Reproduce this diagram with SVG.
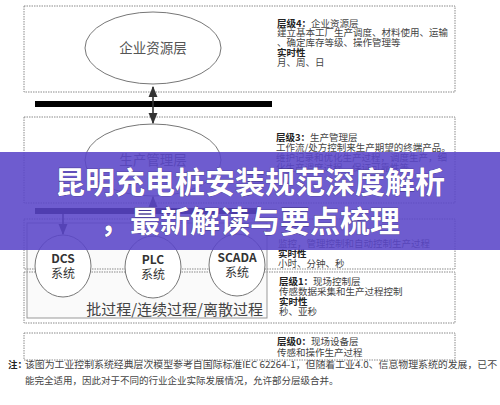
<svg xmlns="http://www.w3.org/2000/svg" width="500" height="405" viewBox="0 0 500 405">
<defs>
<style>
.box{fill:none;stroke:#8a8a8a;stroke-width:1;stroke-dasharray:1.5 1}
.ell{fill:#fff;stroke:#777;stroke-width:1}
.et{font-family:"Noto Sans CJK SC",sans-serif;font-size:13.5px;fill:#555;text-anchor:middle}
.ct{font-family:"Noto Sans CJK SC",sans-serif;font-size:12px;fill:#333;text-anchor:middle}
.rt{font-family:"Noto Sans CJK SC",sans-serif;font-size:9.5px;fill:#444}
.hb{font-weight:bold;fill:#222}
.bar{fill:#000}
.con{stroke:#333;stroke-width:1.6;fill:none}
.note{font-family:"Noto Sans CJK SC",sans-serif;font-size:9.5px;fill:#444}
.bt{font-family:"Noto Sans CJK SC",sans-serif;font-size:30px;font-weight:bold;fill:#fff;text-anchor:middle;stroke:#3a2c80;stroke-width:0.6;paint-order:stroke}
</style>
<marker id="ah" viewBox="0 0 10 10" refX="9" refY="5" markerWidth="7" markerHeight="7" orient="auto-start-reverse"><path d="M0,1 L10,5 L0,9 Z" fill="#333"/></marker>
</defs>
<rect width="500" height="405" fill="#fff"/>

<g id="layer4">
<rect class="box" x="24" y="6" width="431" height="86"/>
<ellipse class="ell" cx="153" cy="48" rx="68" ry="36"/>
<text class="et" x="153" y="53">企业资源层</text>
<text class="rt" x="277" y="26.5"><tspan class="hb">层级4：</tspan>企业资源层</text>
<text class="rt" x="277" y="35.5">建立基本工厂生产调度、材料使用、运输</text>
<text class="rt" x="277" y="45.5">、确定库存等级、操作管理等</text>
<text class="rt hb" x="277" y="55.5">实时性</text>
<text class="rt" x="277" y="65.5">月、周、日</text>
</g>

<g id="layer3">
<rect class="box" x="24" y="117" width="431" height="86"/>
<ellipse class="ell" cx="153" cy="160" rx="68" ry="36"/>
<text class="et" x="153" y="165">生产管理层</text>
<text class="rt" x="276" y="140.5"><tspan class="hb">层级3：</tspan>生产管理层</text>
<text class="rt" x="276" y="150.5">工作流/处方控制来生产期望的终端产品。</text>
<text class="rt" x="276" y="160.5">维护记录和优化生产过程，调度生产，细</text>
<text class="rt" x="276" y="170.5">化生产调度过程，保证可靠性等</text>
</g>

<g id="layer2">
<rect x="27" y="223" width="240" height="95" fill="#fafafa"/>
<rect class="box" x="24" y="219" width="431" height="50"/>
<text class="rt" x="278" y="246.5">监控，管理控制和自动控制生产过程</text>
<text class="rt hb" x="278" y="256.5">实时性</text>
<text class="rt" x="278" y="266.5">小时、分钟、秒</text>
</g>

<g id="layer1">
<rect class="box" x="24" y="272" width="431" height="51"/>
<text class="rt" x="279" y="284.5"><tspan class="hb">层级1：</tspan>现场控制层</text>
<text class="rt" x="279" y="294.5">传感数据采集和生产过程控制</text>
<text class="rt hb" x="279" y="304.5">实时性</text>
<text class="rt" x="279" y="314.5">秒、亚秒</text>
</g>

<g id="process">
<rect x="27" y="223" width="240" height="95" fill="none" stroke="#999" stroke-width="1"/>
<text x="263" y="315" font-family="Noto Sans CJK SC,sans-serif" font-size="15" fill="#444" text-anchor="end">批过程/连续过程/离散过程</text>
</g>

<g id="dcs">
<ellipse class="ell" cx="63" cy="266" rx="28" ry="31"/>
<text class="ct" x="63" y="263" font-weight="bold">DCS</text>
<text class="ct" x="63" y="278" fill="#555">系统</text>
</g>
<g id="plc">
<ellipse class="ell" cx="153" cy="267" rx="28" ry="31"/>
<text class="ct" x="153" y="264" font-weight="bold">PLC</text>
<text class="ct" x="153" y="279" fill="#555">系统</text>
</g>
<g id="scada">
<ellipse class="ell" cx="237" cy="265" rx="28" ry="31"/>
<text class="ct" x="237" y="262" font-weight="bold">SCADA</text>
<text class="ct" x="237" y="277" fill="#555">系统</text>
</g>

<g id="layer0">
<rect class="box" x="24" y="333" width="431" height="27"/>
<text class="rt" x="277" y="344.5"><tspan class="hb">层级0：</tspan>现场设备层</text>
<text class="rt" x="277" y="355.5">传感和操作生产过程</text>
</g>

<g id="connectors">
<rect class="bar" x="35" y="101" width="237" height="6"/>
<rect class="bar" x="35" y="208" width="222" height="6"/>
<line class="con" x1="153" y1="87" x2="153" y2="123" marker-start="url(#ah)" marker-end="url(#ah)"/>
<line class="con" x1="153" y1="208" x2="153" y2="197" marker-end="url(#ah)"/>
<line class="con" x1="63" y1="214" x2="63" y2="234" marker-end="url(#ah)"/>
</g>

<g id="note">
<text class="note" x="8" y="368"><tspan font-weight="bold" fill="#222">注：</tspan></text>
<text class="note" x="25" y="368" textLength="472" lengthAdjust="spacingAndGlyphs">该图为工业控制系统经典层次模型参考自国际标准IEC 62264-1，但随着工业4.0、信息物理系统的发展，已不</text>
<text class="note" x="25" y="384">能完全适用，因此对于不同的行业企业实际发展情况，允许部分层级合并。</text>
</g>

<g id="banner">
<rect x="0" y="152" width="500" height="98" fill="#5a46c8" opacity="0.88"/>
<text class="bt" x="250" y="193">昆明充电桩安装规范深度解析</text>
<text class="bt" x="250" y="232">，最新解读与要点梳理</text>
</g>
</svg>
